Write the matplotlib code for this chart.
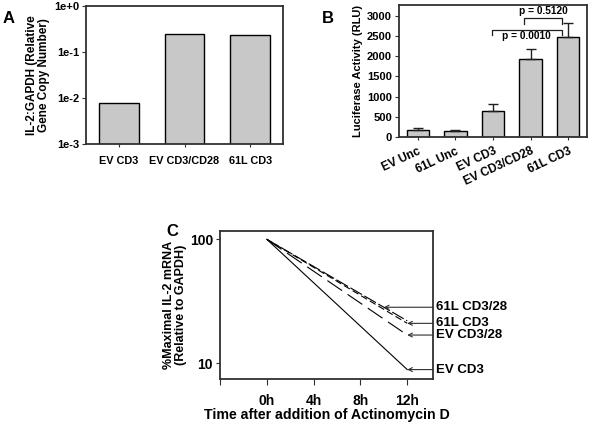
import numpy as np
import matplotlib
matplotlib.use('Agg')
import matplotlib.pyplot as plt

plt.rcParams['font.family'] = ['Liberation Sans', 'DejaVu Sans']
plt.rcParams['font.weight'] = 'bold'

# panel A data
a_labels = ['EV CD3', 'EV CD3/CD28', '61L CD3']
a_values = [0.0079, 0.25, 0.23]
a_ticks = [1e-3, 1e-2, 1e-1, 1e0]
a_ticklabels = ['1e-3', '1e-2', '1e-1', '1e+0']

# panel B data
b_labels = ['EV Unc', '61L Unc', 'EV CD3', 'EV CD3/CD28', '61L CD3']
b_values = [173, 148, 643, 1930, 2480]
b_err = [42, 17, 165, 247, 332]
b_ticks = [0, 500, 1000, 1500, 2000, 2500, 3000]

# panel C data
c_hours = [0, 12]
c_series = ['61L CD3/28', '61L CD3', 'EV CD3/28', 'EV CD3']
c_values = [[100, 22.0], [100, 21.0], [100, 16.9], [100, 8.9]]
c_arrow_hour = [10, 12, 12, 12]
c_xticks = [-4, 0, 4, 8, 12]
c_xticklabels = ['', '0h', '4h', '8h', '12h']

bar_color = '#c8c8c8'
spine_color = '#303030'

fig = plt.figure(figsize=(5.9, 4.24), dpi=100)

def style_axes(ax):
    for s in ax.spines.values():
        s.set_color(spine_color)
        s.set_linewidth(1.3)
    ax.tick_params(direction='out', length=3, width=0.8, color=spine_color, pad=2)

# ---- A ----
axA = fig.add_axes([0.1458, 0.6604, 0.3339, 0.3255])
xa = np.arange(len(a_labels))
axA.bar(xa, a_values, width=0.6, color=bar_color, edgecolor='black', linewidth=1.0)
axA.set_yscale('log')
axA.set_ylim(1e-3, 1e0)
axA.set_xlim(-0.5, 2.5)
axA.set_yticks(a_ticks)
axA.set_yticklabels(a_ticklabels, fontsize=8, fontweight='bold')
axA.yaxis.set_minor_locator(matplotlib.ticker.NullLocator())
axA.set_xticks(xa)
axA.set_xticklabels(a_labels, fontsize=7.8, fontweight='bold')
axA.set_ylabel('IL-2:GAPDH (Relative\nGene Copy Number)', fontsize=8.5, fontweight='bold', labelpad=3, linespacing=1.0)
style_axes(axA)
axA.tick_params(axis='x', length=2, pad=7)
fig.text(0.005, 0.975, 'A', fontsize=12, fontweight='bold', va='top')

# ---- B ----
axB = fig.add_axes([0.6763, 0.6769, 0.3186, 0.3113])
xb = np.arange(len(b_labels))
axB.bar(xb, b_values, width=0.6, color=bar_color, edgecolor='black', linewidth=1.0,
        yerr=[np.zeros(len(b_err)), b_err], capsize=3.5,
        error_kw=dict(ecolor='#202020', elinewidth=1.0, capthick=1.0))
axB.set_xlim(-0.5, 4.5)
axB.set_ylim(0, 3265)
axB.set_yticks(b_ticks)
axB.set_yticklabels([str(t) for t in b_ticks], fontsize=8, fontweight='bold')
axB.set_xticks(xb)
axB.set_xticklabels(b_labels, fontsize=8.5, fontweight='bold', rotation=25,
                    ha='right', rotation_mode='anchor')
axB.set_ylabel('Luciferase Activity (RLU)', fontsize=8, fontweight='bold', labelpad=3)
style_axes(axB)
axB.tick_params(axis='x', length=2, pad=4)

# significance brackets
def bracket(ax, x1, x2, y, drop, text, text_above):
    ax.plot([x1, x1, x2, x2], [y - drop, y, y, y - drop], color='#202020', lw=0.9)
    if text_above:
        ax.text((x1 + x2) / 2, y + 50, text, ha='center', va='bottom', fontsize=7.3, fontweight='bold')
    else:
        ax.text((x1 + x2) / 2, y - 40, text, ha='center', va='top', fontsize=7.3, fontweight='bold')

bracket(axB, 1.97, 3.83, 2655, 130, 'p = 0.0010', False)
bracket(axB, 2.83, 3.83, 2940, 140, 'p = 0.5120', True)
fig.text(0.545, 0.975, 'B', fontsize=12, fontweight='bold', va='top')

# ---- C ----
axC = fig.add_axes([0.3729, 0.1061, 0.3610, 0.3490])
styles = [(0, (12, 2.5)), (0, (6, 3)), (0, (16, 6)), '-']
for name, vals, ls in zip(c_series, c_values, styles):
    axC.plot(c_hours, vals, color='black', lw=0.8, linestyle=ls)
axC.set_yscale('log')
axC.set_ylim(7.47, 116.6)
axC.set_xlim(-4, 14.2)
axC.set_yticks([10, 100])
axC.set_yticklabels(['10', '100'], fontsize=10, fontweight='bold')
axC.yaxis.set_minor_locator(matplotlib.ticker.NullLocator())
axC.set_xticks(c_xticks)
axC.set_xticklabels(c_xticklabels, fontsize=10, fontweight='bold')
axC.set_xlabel('Time after addition of Actinomycin D', fontsize=10.2, fontweight='bold', labelpad=0)
axC.set_ylabel('%Maximal IL-2 mRNA\n(Relative to GAPDH)', fontsize=9, fontweight='bold', labelpad=2, linespacing=1.0)
style_axes(axC)
axC.tick_params(axis='x', length=4, pad=7)

for name, vals, hr in zip(c_series, c_values, c_arrow_hour):
    yv = 10 ** np.interp(hr, c_hours, np.log10(vals))
    axC.annotate(name, xy=(hr, yv), xytext=(14.45, yv), textcoords='data',
                 ha='left', va='center', fontsize=9.5, fontweight='bold',
                 annotation_clip=False,
                 arrowprops=dict(arrowstyle='->', color='#303030', lw=0.8,
                                 shrinkA=0, shrinkB=0, mutation_scale=7))
fig.text(0.282, 0.472, 'C', fontsize=12, fontweight='bold', va='top')

fig.savefig('out.png', dpi=100)
